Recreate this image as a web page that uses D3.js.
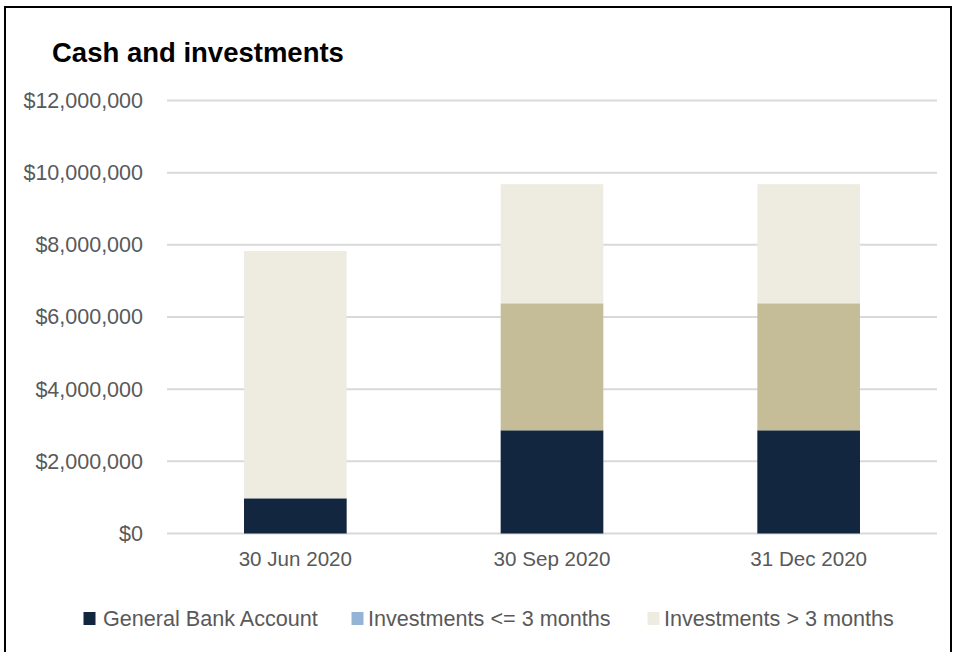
<!DOCTYPE html>
<html>
<head>
<meta charset="utf-8">
<script src="https://cdn.jsdelivr.net/npm/d3@7"></script>
<style>
  html, body { margin: 0; padding: 0; background: #fff; }
  svg { display: block; }
  text { font-family: "Liberation Sans", Arial, sans-serif; }
</style>
</head>
<body>
<svg id="chart" width="954" height="652"></svg>
<script>
const categories = ["30 Jun 2020", "30 Sep 2020", "31 Dec 2020"];
const seriesNames = ["General Bank Account", "Investments <= 3 months", "Investments > 3 months"];
const generalBank = [975000, 2860000, 2860000];
const investShort = [0, 3520000, 3520000];
const investLong = [6855000, 3300000, 3300000];
const yTicks = [0, 2000000, 4000000, 6000000, 8000000, 10000000, 12000000];

const barColors = ["#12263f", "#c4bd97", "#eeece1"];
const legendColors = ["#12263f", "#95b3d7", "#eeece1"];

const svg = d3.select("#chart");
const W = 954, H = 652;
const plot = { left: 167, right: 937, top: 100.5, bottom: 533.5 };

// frame
svg.append("path")
  .attr("d", `M5,${H + 5} L5,7 L951,7 L951,${H + 5}`)
  .attr("fill", "none").attr("stroke", "#000").attr("stroke-width", 2);

const table = categories.map((c, i) => ({
  cat: c, s0: generalBank[i], s1: investShort[i], s2: investLong[i]
}));
const keys = ["s0", "s1", "s2"];
const stacked = d3.stack().keys(keys)(table);

const x = d3.scaleBand().domain(categories).range([plot.left, plot.right]).paddingInner(0.6).paddingOuter(0.3);
const y = d3.scaleLinear().domain([0, 12000000]).range([plot.bottom, plot.top]);

// gridlines
svg.append("g").selectAll("line").data(yTicks).join("line")
  .attr("x1", plot.left).attr("x2", plot.right)
  .attr("y1", d => y(d)).attr("y2", d => y(d))
  .attr("stroke", "#d9d9d9").attr("stroke-width", 2);

// y axis labels
const fmt = d => "$" + d3.format(",")(d);
const yAxis = d3.axisLeft(y).tickValues(yTicks).tickFormat(fmt).tickSize(0).tickPadding(24);
const yg = svg.append("g").attr("transform", `translate(${plot.left},0)`).call(yAxis);
yg.select(".domain").remove();
yg.selectAll("text").attr("fill", "#595959").style("font-size", "21.5px")
  .style("font-family", "'Liberation Sans', Arial, sans-serif");

// x axis labels
const xAxis = d3.axisBottom(x).tickSize(0).tickPadding(18);
const xg = svg.append("g").attr("transform", `translate(0,${plot.bottom})`).call(xAxis);
xg.select(".domain").remove();
xg.selectAll("text").attr("fill", "#595959").style("font-size", "20.6px")
  .style("font-family", "'Liberation Sans', Arial, sans-serif");

// bars
svg.append("g").selectAll("g").data(stacked).join("g")
  .attr("fill", (d, i) => barColors[i])
  .selectAll("rect").data(d => d).join("rect")
  .attr("x", d => x(d.data.cat))
  .attr("width", x.bandwidth())
  .attr("y", d => y(d[1]))
  .attr("height", d => y(d[0]) - y(d[1]));

// title
svg.append("text").attr("x", 52).attr("y", 61.5)
  .attr("font-weight", "bold").attr("fill", "#000")
  .style("font-size", "27.5px").text("Cash and investments");

// legend
const legendItems = [
  { mx: 83.5, tx: 103 },
  { mx: 351.5, tx: 368 },
  { mx: 647.5, tx: 664 }
];
const lg = svg.append("g");
seriesNames.forEach((name, i) => {
  lg.append("rect").attr("x", legendItems[i].mx).attr("y", 612)
    .attr("width", 12).attr("height", 13).attr("fill", legendColors[i]);
  lg.append("text").attr("x", legendItems[i].tx).attr("y", 625.5)
    .attr("fill", "#595959").style("font-size", "21.6px").text(name);
});
</script>
</body>
</html>
